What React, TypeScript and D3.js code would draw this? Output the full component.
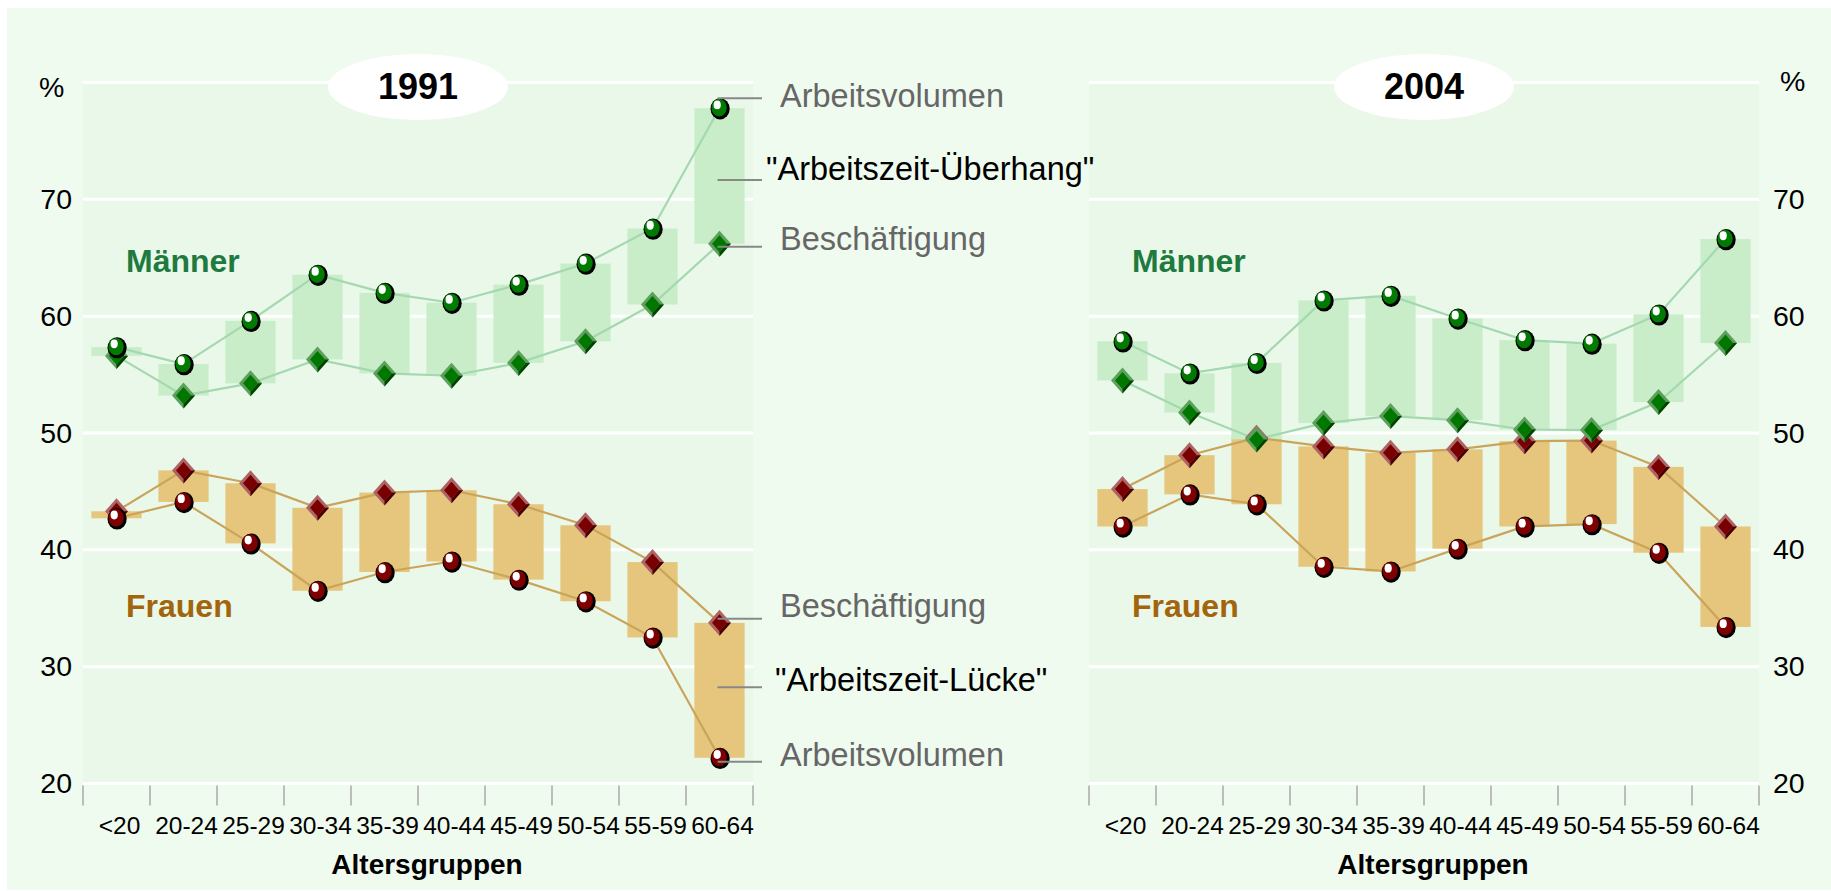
import React, { useEffect, useRef } from "react";
import * as d3 from "d3";

const ageGroups = ["<20", "20-24", "25-29", "30-34", "35-39", "40-44", "45-49", "50-54", "55-59", "60-64"];

// Arbeitsvolumen (circles) and Beschäftigung (diamonds), in %
const menVolume1991 = [57.35, 55.9, 59.6, 63.55, 62.0, 61.15, 62.7, 64.5, 67.5, 77.8];
const menEmployment1991 = [56.6, 53.2, 54.25, 56.3, 55.1, 54.9, 56.0, 57.85, 61.0, 66.2];
const womenEmployment1991 = [43.3, 46.8, 45.7, 43.6, 44.9, 45.1, 43.9, 42.1, 38.95, 33.75];
const womenVolume1991 = [42.7, 44.1, 40.55, 36.5, 38.1, 39.0, 37.45, 35.6, 32.5, 22.2];

const menVolume2004 = [57.85, 55.1, 56.0, 61.35, 61.75, 59.8, 57.95, 57.65, 60.15, 66.6];
const menEmployment2004 = [54.5, 51.75, 49.45, 50.85, 51.45, 51.1, 50.3, 50.25, 52.65, 57.7];
const womenEmployment2004 = [45.2, 48.1, 49.6, 48.85, 48.3, 48.6, 49.3, 49.35, 47.1, 42.0];
const womenVolume2004 = [42.0, 44.75, 43.9, 38.55, 38.15, 40.1, 42.0, 42.2, 39.75, 33.4];

const yTicks = [20, 30, 40, 50, 60, 70];
const gridValues = [20, 30, 40, 50, 60, 70, 80];

const upperNotes = ["Arbeitsvolumen", "\"Arbeitszeit-Überhang\"", "Beschäftigung"];
const lowerNotes = ["Beschäftigung", "\"Arbeitszeit-Lücke\"", "Arbeitsvolumen"];

const FONT = "'Liberation Sans', Arial, Helvetica, sans-serif";

const panels = [
  { year: "1991", left: 83, right: 753, axis: "left",
    menVol: menVolume1991, menEmp: menEmployment1991, womenVol: womenVolume1991, womenEmp: womenEmployment1991 },
  { year: "2004", left: 1089, right: 1759, axis: "right",
    menVol: menVolume2004, menEmp: menEmployment2004, womenVol: womenVolume2004, womenEmp: womenEmployment2004 },
];

const men = { bar: "#C8EDC8", line: "#A4D8AE", ball: "#007A00", light: "#5E9F5E", main: "#007800", dark: "#004400" };
const women = { bar: "#E5C67C", line: "#C9A45A", ball: "#7E0000", light: "#AE6464", main: "#780000", dark: "#460000" };

function ball(g, cx, cy, fill) {
  g.append("ellipse").attr("cx", cx + 0.6).attr("cy", cy + 0.6).attr("rx", 9.6).attr("ry", 10.6).attr("fill", "#000");
  g.append("ellipse").attr("cx", cx - 0.4).attr("cy", cy - 0.5).attr("rx", 7.7).attr("ry", 8.7).attr("fill", fill);
  g.append("ellipse").attr("cx", cx - 2.3).attr("cy", cy - 3.3).attr("rx", 3.6).attr("ry", 4.4).attr("fill", "#fff");
}

function diamond(g, cx, cy, c) {
  const w = 11.5, h = 13, wi = 7.5, hi = 8.5;
  g.append("path").attr("d", `M${cx},${cy - h}L${cx + w},${cy}L${cx},${cy + h}L${cx - w},${cy}Z`).attr("fill", c.light);
  g.append("path").attr("d", `M${cx + w},${cy}L${cx},${cy + h}L${cx},${cy + hi}L${cx + wi},${cy}Z`).attr("fill", c.dark);
  g.append("path").attr("d", `M${cx},${cy - hi}L${cx + wi},${cy}L${cx},${cy + hi}L${cx - wi},${cy}Z`).attr("fill", c.main);
}

function drawPanel(svg, p, y) {
  const g = svg.append("g");
  const x = d3.scaleBand().domain(ageGroups).range([p.left, p.right]).paddingInner(0.25).paddingOuter(0.125);
  const mid = (p.left + p.right) / 2;
  const cx = (d) => x(d) + x.bandwidth() / 2;

  g.append("rect").attr("x", p.left).attr("y", y(80)).attr("width", p.right - p.left)
    .attr("height", y(20) - y(80)).attr("fill", "#EAF8EA");

  g.selectAll(".grid").data(gridValues).enter().append("line")
    .attr("x1", p.left).attr("x2", p.right).attr("y1", (d) => y(d)).attr("y2", (d) => y(d))
    .attr("stroke", "#fff").attr("stroke-width", 3);

  // tick marks sit on the band borders
  g.selectAll(".tick-mark").data(d3.range(ageGroups.length + 1)).enter().append("line")
    .attr("x1", (i) => p.left + i * x.step()).attr("x2", (i) => p.left + i * x.step())
    .attr("y1", y(20) + 2).attr("y2", y(20) + 22)
    .attr("stroke", "#A8A8A8").attr("stroke-width", 1.5);

  g.selectAll(".xlab").data(ageGroups).enter().append("text")
    .attr("x", (d) => cx(d) + 3).attr("y", 834).attr("text-anchor", "middle")
    .attr("font-family", FONT).attr("font-size", 24.5).attr("fill", "#000").text((d) => d);

  const groups = [
    { c: women, top: p.womenEmp, bottom: p.womenVol },
    { c: men, top: p.menVol, bottom: p.menEmp },
  ];

  groups.forEach(({ c, top, bottom }) => {
    g.append("g").selectAll("rect").data(ageGroups).enter().append("rect")
      .attr("x", (d) => x(d)).attr("width", x.bandwidth())
      .attr("y", (d, i) => y(Math.max(top[i], bottom[i])))
      .attr("height", (d, i) => Math.abs(y(top[i]) - y(bottom[i])))
      .attr("fill", c.bar);
  });

  const line = d3.line().x((d, i) => cx(ageGroups[i])).y((d) => y(d));
  groups.forEach(({ c, top, bottom }) => {
    [top, bottom].forEach((series) => {
      g.append("path").attr("d", line(series)).attr("fill", "none")
        .attr("stroke", c.line).attr("stroke-width", 2.2);
    });
  });

  groups.forEach(({ c }, k) => {
    const vol = k === 0 ? p.womenVol : p.menVol;
    const emp = k === 0 ? p.womenEmp : p.menEmp;
    const mg = g.append("g");
    ageGroups.forEach((a, i) => {
      diamond(mg, cx(a), y(emp[i]), c);
      ball(mg, cx(a), y(vol[i]), c.ball);
    });
  });

  g.append("text").attr("x", p.left + 43).attr("y", 272).attr("font-family", FONT)
    .attr("font-weight", "bold").attr("font-size", 32).attr("fill", "#1F7A3F").text("Männer");
  g.append("text").attr("x", p.left + 43).attr("y", 617).attr("font-family", FONT)
    .attr("font-weight", "bold").attr("font-size", 32).attr("fill", "#A2640C").text("Frauen");

  g.append("ellipse").attr("cx", mid).attr("cy", 87).attr("rx", 90).attr("ry", 33).attr("fill", "#fff");
  g.append("text").attr("x", mid).attr("y", 99).attr("text-anchor", "middle").attr("font-family", FONT)
    .attr("font-weight", "bold").attr("font-size", 36).attr("fill", "#000").text(p.year);

  g.append("text").attr("x", mid + 9).attr("y", 874).attr("text-anchor", "middle").attr("font-family", FONT)
    .attr("font-weight", "bold").attr("font-size", 28).attr("fill", "#000").text("Altersgruppen");

  const axis = p.axis === "left"
    ? d3.axisLeft(y).tickValues(yTicks).tickSize(0).tickPadding(0).tickFormat(d3.format("d"))
    : d3.axisRight(y).tickValues(yTicks).tickSize(0).tickPadding(0).tickFormat(d3.format("d"));
  const ag = g.append("g").attr("transform", `translate(${p.axis === "left" ? 72 : 1773},0)`).call(axis);
  ag.select(".domain").remove();
  ag.selectAll("text").attr("font-family", FONT).attr("font-size", 28.5).attr("fill", "#000");

  g.append("text").attr("x", p.axis === "left" ? 39 : 1780).attr("y", p.axis === "left" ? 97 : 91)
    .attr("font-family", FONT).attr("font-size", 28.5).attr("fill", "#000").text("%");

  return x;
}

function drawChart(node) {
  const svg = d3.select(node);
  svg.selectAll("*").remove();
  svg.append("rect").attr("x", 7).attr("y", 8).attr("width", 1824).attr("height", 882).attr("fill", "#F0FBF0");

  const y = d3.scaleLinear().domain([20, 80]).range([783.5, 82.5]);
  const x1991 = drawPanel(svg, panels[0], y);
  drawPanel(svg, panels[1], y);

  // leader lines to the last 1991 group, drawn last so the text sits on top
  const last = ageGroups[ageGroups.length - 1];
  const lx = x1991(last) + x1991.bandwidth() / 2 - 2;
  const i = ageGroups.length - 1;
  const upper = [
    { text: upperNotes[0], ly: y(menVolume1991[i]) - 10, ty: 9, tx: 780, col: "#666" },
    { text: upperNotes[1], ly: y((menVolume1991[i] + menEmployment1991[i]) / 2) + 4, ty: 0, tx: 766, col: "#000" },
    { text: upperNotes[2], ly: y(menEmployment1991[i]) + 3, ty: 3, tx: 780, col: "#666" },
  ];
  const lower = [
    { text: lowerNotes[0], ly: y(womenEmployment1991[i]) - 4, ty: -2, tx: 780, col: "#666" },
    { text: lowerNotes[1], ly: y((womenEmployment1991[i] + womenVolume1991[i]) / 2) - 3, ty: 4, tx: 775, col: "#000" },
    { text: lowerNotes[2], ly: y(womenVolume1991[i]) + 4, ty: 4, tx: 780, col: "#666" },
  ];
  const notes = svg.append("g");
  upper.concat(lower).forEach((n) => {
    notes.append("line").attr("x1", lx).attr("x2", 762).attr("y1", n.ly).attr("y2", n.ly)
      .attr("stroke", "#888").attr("stroke-width", 2);
    notes.append("text").attr("x", n.tx).attr("y", n.ly + n.ty).attr("font-family", FONT)
      .attr("font-size", 32.5).attr("fill", n.col).text(n.text);
  });
}

export default function App() {
  const ref = useRef<SVGSVGElement>(null);

  useEffect(() => {
    drawChart(ref.current);
  }, []);

  return (
    <div>
      <style>{"body{margin:0;overflow:hidden;background:#fff}"}</style>
      <svg ref={ref} width={1831} height={891} style={{ display: "block" }} />
    </div>
  );
}
